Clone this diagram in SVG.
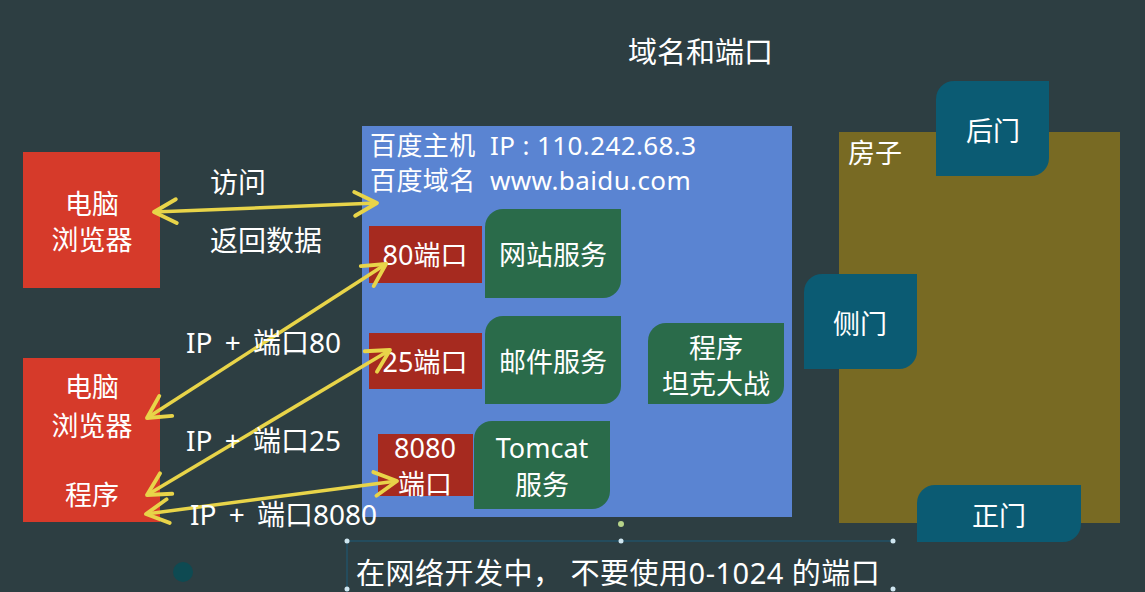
<svg xmlns="http://www.w3.org/2000/svg" width="1145" height="592" viewBox="0 0 1145 592">
<defs>
<style>
text{font-family:"Noto Sans","Noto Sans CJK SC",sans-serif;fill:#ffffff;}
.t24{font-size:27px;}
.lb{font-size:28px;}
.c{text-anchor:middle;}
.red{fill:#d63a2a;}
.port{fill:#a62a1f;}
.green{fill:#2a6b4a;}
.door{fill:#0b5b73;}
.arr{stroke:#e8d449;stroke-width:3.5;fill:none;marker-start:url(#ah);marker-end:url(#ah);}
.ws{word-spacing:5px;}
</style>
<marker id="ah" viewBox="0 0 20 20" refX="17" refY="10" markerWidth="8.5" markerHeight="8.5" orient="auto-start-reverse" markerUnits="strokeWidth">
<path d="M2,2 L17,10 L2,18" fill="none" stroke="#e8d449" stroke-width="2.6" stroke-linecap="round" stroke-linejoin="round"/>
</marker>
</defs>
<rect width="1145" height="592" fill="#2d3e42"/>
<text x="628" y="63" style="font-size:29px">域名和端口</text>

<g id="baidu-host">
<rect x="362" y="126" width="430" height="391" fill="#5a84d2"/>
<text class="t24" x="370" y="155" xml:space="preserve" style="font-size:26px;letter-spacing:0.4px">百度主机  IP : 110.242.68.3</text>
<text class="t24" x="370" y="190" xml:space="preserve" style="font-size:26px;letter-spacing:0.4px">百度域名  www.baidu.com</text>
</g>

<g id="pc1">
<rect class="red" x="23" y="152" width="137" height="136"/>
<text class="t24 c" x="92" y="214">电脑</text>
<text class="t24 c" x="92" y="250">浏览器</text>
</g>
<g id="pc2">
<rect class="red" x="23" y="358" width="137" height="164"/>
<text class="t24 c" x="92" y="397">电脑</text>
<text class="t24 c" x="92" y="436">浏览器</text>
<text class="t24 c" x="92" y="505">程序</text>
</g>

<g id="port80">
<rect class="port" x="369" y="226" width="113" height="57"/>
<text class="t24 c" x="425" y="265">80端口</text>
</g>
<g id="port25">
<rect class="port" x="369" y="333" width="113" height="56"/>
<text class="t24 c" x="425" y="372">25端口</text>
</g>
<g id="port8080">
<rect class="port" x="378" y="434" width="95" height="62"/>
<text class="t24 c" x="425" y="458">8080</text>
<text class="t24 c" x="425" y="494">端口</text>
</g>

<g id="web">
<path class="green" d="M503,209 H621 V280 A18,18 0 0 1 603,298 H485 V227 A18,18 0 0 1 503,209 Z"/>
<text class="t24 c" x="553" y="265">网站服务</text>
</g>
<g id="mail">
<path class="green" d="M503,316 H621 V386 A18,18 0 0 1 603,404 H485 V334 A18,18 0 0 1 503,316 Z"/>
<text class="t24 c" x="553" y="372">邮件服务</text>
</g>
<g id="game">
<path class="green" d="M666,323 H784 V386 A18,18 0 0 1 766,404 H648 V341 A18,18 0 0 1 666,323 Z"/>
<text class="t24 c" x="716" y="358">程序</text>
<text class="t24 c" x="716" y="394">坦克大战</text>
</g>
<g id="tomcat">
<path class="green" d="M492,421 H610 V491 A18,18 0 0 1 592,509 H474 V439 A18,18 0 0 1 492,421 Z"/>
<text class="t24 c" x="542" y="458">Tomcat</text>
<text class="t24 c" x="542" y="495">服务</text>
</g>

<g id="house">
<rect x="839" y="132" width="281" height="391" fill="#786a23"/>
<text class="t24" x="848" y="163">房子</text>
</g>
<g id="back-door">
<path class="door" d="M954,81 H1049 V158 A18,18 0 0 1 1031,176 H936 V99 A18,18 0 0 1 954,81 Z"/>
<text class="t24 c" x="993" y="141">后门</text>
</g>
<g id="side-door">
<path class="door" d="M822,274 H917 V351 A18,18 0 0 1 899,369 H804 V292 A18,18 0 0 1 822,274 Z"/>
<text class="t24 c" x="860" y="334">侧门</text>
</g>
<g id="front-door">
<path class="door" d="M935,485 H1081 V524 A18,18 0 0 1 1063,542 H917 V503 A18,18 0 0 1 935,485 Z"/>
<text class="t24 c" x="999" y="526">正门</text>
</g>

<g id="connectors">
<line class="arr" x1="154" y1="212" x2="377" y2="203"/>
<line class="arr" x1="147" y1="418" x2="386" y2="264"/>
<line class="arr" x1="147" y1="495" x2="390" y2="350"/>
<line class="arr" x1="146" y1="514" x2="397" y2="481"/>
</g>

<g id="labels">
<text class="lb" x="210" y="193">访问</text>
<text class="lb" x="210" y="251">返回数据</text>
<text class="lb ws" x="186" y="353">IP + 端口80</text>
<text class="lb ws" x="186" y="451">IP + 端口25</text>
<text class="lb ws" x="190" y="525">IP + 端口8080</text>
</g>

<g id="selection" fill="#cfe6f0">
<line x1="347" y1="541" x2="893" y2="541" stroke="#1c5a78" stroke-width="1"/>
<line x1="347" y1="541" x2="347" y2="592" stroke="#1c5a78" stroke-width="1"/>
<circle cx="621" cy="524" r="3" fill="#b7d48a"/>
<circle cx="347" cy="541" r="2.5"/>
<circle cx="621" cy="541" r="2.5"/>
<circle cx="893" cy="541" r="2.5"/>
<circle cx="347" cy="589" r="2.5"/>
<circle cx="893" cy="589" r="2.5"/>
<circle cx="183" cy="572" r="10" fill="#0e4a52"/>
</g>
<text x="356" y="584" style="font-size:29px;letter-spacing:0.5px">在网络开发中， 不要使用0-1024 的端口</text>
</svg>
